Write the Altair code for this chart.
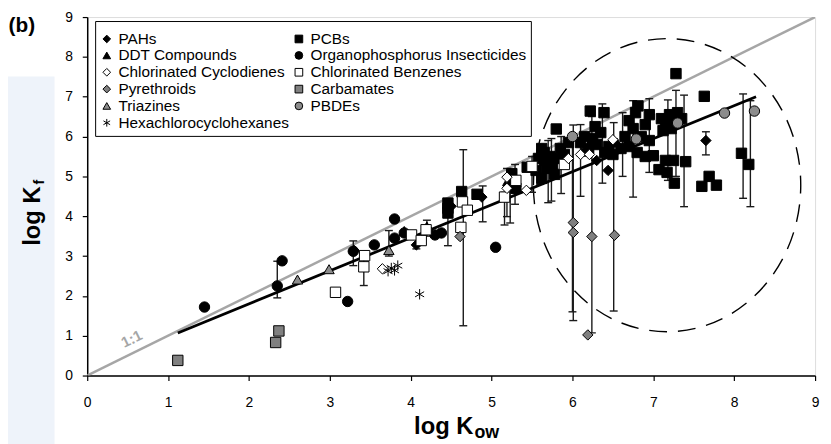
import altair as alt
import pandas as pd

FONT = "Liberation Sans"

# ---- categories (legend fills column by column) ----
categories = ["PAHs", "DDT Compounds", "Chlorinated Cyclodienes", "Pyrethroids",
              "Triazines", "Hexachlorocyclohexanes",
              "PCBs", "Organophosphorus Insecticides", "Chlorinated Benzenes",
              "Carbamates", "PBDEs"]
ASTERISK = "M0,-1L0,1M-0.87,-0.5L0.87,0.5M-0.87,0.5L0.87,-0.5"
shapes = ["diamond", "triangle-up", "diamond", "diamond", "triangle-up", ASTERISK,
          "square", "circle", "square", "square", "circle"]
fills = ["black", "black", "white", "#808080", "#8c8c8c", "black",
         "black", "black", "white", "#808080", "#8c8c8c"]
strokes = ["black"] * 11
stroke_widths = [1, 1, 1, 1, 1, 1.9, 1, 1, 1, 1, 1]

# ---- data (log Kow, log Kf) ----
pah_x = [3.3, 4.07, 4.2, 4.88, 5.3, 5.85, 6.44, 7.65, 6.3, 4.5]
pah_y = [3.14, 3.28, 3.7, 4.48, 4.75, 5.45, 5.15, 5.9, 5.4, 4.25]

pcb_x = [4.46, 4.46, 4.46, 4.63, 4.82, 5.25, 5.25, 5.3, 5.44, 5.62, 5.62, 5.66, 5.7,
         5.8, 5.55, 5.58, 5.65, 5.72, 5.75, 5.8, 5.85, 5.9, 5.68, 5.78, 5.62, 5.95,
         6.22, 6.39, 6.15, 6.25, 6.3, 6.35, 6.4, 6.45, 6.2, 6.1, 6.5, 6.28,
         6.81, 6.7, 6.75, 6.85, 6.9, 6.95, 6.65, 6.7, 6.8, 6.9, 7.0, 6.6, 6.95, 6.78,
         7.1, 7.15, 7.2, 7.25, 7.3, 7.22, 7.35, 7.12,
         7.07, 7.15, 7.25, 7.4, 7.17, 7.26,
         7.28, 7.63, 7.6, 7.69, 7.78, 8.09, 8.18]
pcb_y = [4.33, 4.2, 4.08, 4.62, 4.55, 5.07, 4.85, 4.7, 5.23, 5.7, 5.55, 5.4, 5.35,
         6.19, 5.15, 5.45, 5.6, 5.5, 5.25, 5.45, 5.7, 5.55, 5.2, 5.05, 4.95, 5.85,
         6.64, 6.6, 6.0, 5.95, 5.8, 6.1, 5.6, 5.75, 5.7, 5.85, 5.55, 6.25,
         6.77, 6.4, 6.2, 6.0, 6.3, 5.9, 6.0, 5.75, 5.6, 5.5, 5.52, 5.7, 6.55, 6.6,
         6.45, 6.3, 6.55, 6.35, 6.6, 6.2, 6.45, 6.15,
         5.17, 5.4, 5.4, 5.37, 5.1, 4.83,
         7.58, 7.01, 4.75, 5.0, 4.78, 5.58, 5.3]

ddt_x = [3.92, 4.2, 5.2, 5.7, 6.12, 6.55]
ddt_y = [3.63, 3.74, 4.88, 5.3, 5.62, 5.85]

op_x = [1.45, 2.35, 2.41, 3.22, 3.29, 3.55, 3.80, 3.80, 3.92, 4.3, 4.38, 5.05]
op_y = [1.72, 2.25, 2.88, 1.86, 3.12, 3.28, 3.93, 3.45, 3.58, 3.53, 3.58, 3.22]

cc_x = [3.65, 5.19, 5.19, 5.43, 6.1, 6.21, 6.5, 5.95]
cc_y = [2.68, 4.98, 4.7, 4.65, 5.55, 5.55, 5.92, 5.45]

cb_x = [3.07, 3.43, 3.42, 4.01, 4.13, 4.19, 4.62, 4.64, 4.7, 5.16, 5.3, 5.5, 5.9]
cb_y = [2.09, 3.01, 2.73, 3.53, 3.39, 3.66, 3.72, 4.36, 4.15, 4.48, 4.9, 5.25, 5.3]

py_x = [4.61, 6.01, 6.01, 6.24, 6.52, 6.19]
py_y = [3.49, 3.84, 3.59, 3.49, 3.52, 1.02]

carb_x = [1.12, 2.33, 2.37]
carb_y = [0.38, 0.83, 1.12]

tri_x = [2.6, 2.99, 3.73]
tri_y = [2.41, 2.67, 3.15]

pbde_x = [6.0, 6.79, 7.3, 7.88, 8.25]
pbde_y = [6.0, 5.94, 6.34, 6.59, 6.64]

hch_x = [3.72, 3.76, 3.8, 3.84, 4.11]
hch_y = [2.62, 2.7, 2.64, 2.76, 2.04]

# error bars (x, low, high)
err_x = [2.35, 3.29, 3.42, 3.73, 4.07, 4.2, 4.46, 4.65, 4.89, 5.16, 5.19, 5.23, 5.29,
         5.7, 5.74, 5.86, 6.01, 6.24, 6.37, 6.51, 6.75, 6.62, 6.95, 7.18, 7.28, 7.38,
         7.65, 8.11, 8.2, 5.5, 5.6, 6.1, 6.0]
err_lo = [1.95, 2.76, 2.26, 3.0, 3.18, 3.5, 3.26, 1.25, 3.86, 3.78, 3.99, 3.83, 4.3,
          4.34, 4.38, 4.57, 1.38, 1.07, 4.83, 1.62, 4.48, 5.0, 5.1, 4.9, 5.0, 4.24,
          5.54, 4.45, 4.24, 4.6, 4.8, 4.5, 1.6]
err_hi = [2.87, 3.38, 2.98, 3.64, 3.42, 3.9, 4.4, 5.67, 4.76, 4.6, 5.2, 5.0, 5.3,
          5.9, 5.95, 6.0, 6.29, 6.5, 6.82, 6.35, 6.9, 6.6, 6.95, 6.92, 7.16, 7.04,
          6.12, 7.07, 6.9, 5.5, 5.8, 6.3, 5.9]

# regression line and 1:1 line end points
reg_x = [1.12, 8.27]
reg_y = [1.07, 7.0]
one_x = [0, 9]
one_y = [0, 9]

# dashed circle: centre (in axis units)
circ_x = [7.17]
circ_y = [4.78]

# ---- build tables ----
series = {
    "PAHs": (pah_x, pah_y), "PCBs": (pcb_x, pcb_y), "DDT Compounds": (ddt_x, ddt_y),
    "Organophosphorus Insecticides": (op_x, op_y),
    "Chlorinated Cyclodienes": (cc_x, cc_y), "Chlorinated Benzenes": (cb_x, cb_y),
    "Pyrethroids": (py_x, py_y), "Carbamates": (carb_x, carb_y),
    "Triazines": (tri_x, tri_y), "PBDEs": (pbde_x, pbde_y),
    "Hexachlorocyclohexanes": (hch_x, hch_y),
}
draw_order = ["PCBs", "PAHs", "DDT Compounds", "Organophosphorus Insecticides",
              "Chlorinated Benzenes", "Chlorinated Cyclodienes", "Pyrethroids",
              "Carbamates", "Triazines", "PBDEs", "Hexachlorocyclohexanes"]
rows = []
for i, c in enumerate(draw_order):
    xs_, ys_ = series[c]
    assert len(xs_) == len(ys_), c
    for x, y in zip(xs_, ys_):
        rows.append({"kow": x, "kf": y, "cat": c, "o": i})
pts = pd.DataFrame(rows)

err = pd.DataFrame({"x": err_x, "lo": err_lo, "hi": err_hi})
caps = pd.DataFrame({"x": err_x + err_x, "y": err_lo + err_hi})
reg = pd.DataFrame({"x": reg_x, "y": reg_y})
one = pd.DataFrame({"x": one_x, "y": one_y})
circ = pd.DataFrame({"x": circ_x, "y": circ_y})

xs = alt.Scale(domain=[0, 9], nice=False, zero=False)
ys = alt.Scale(domain=[0, 9], nice=False, zero=False)

X = lambda f: alt.X(f, type="quantitative", scale=xs,
                    axis=alt.Axis(values=list(range(10)), title=None, grid=False,
                                  labelFont=FONT, labelFontSize=14, labelColor="black",
                                  tickColor="black", domainColor="black",
                                  tickSize=5, labelPadding=15, domainWidth=1.5,
                                  tickWidth=1.2, format="d", labelFlush=False))
Y = lambda f: alt.Y(f, type="quantitative", scale=ys,
                    axis=alt.Axis(values=list(range(10)), title=None, grid=False,
                                  labelFont=FONT, labelFontSize=14, labelColor="black",
                                  tickColor="black", domainColor="black",
                                  tickSize=5, labelPadding=10, domainWidth=1.5,
                                  tickWidth=1.2, format="d"))

# light blue slide background strip on the far left
strip = alt.Chart(pd.DataFrame({"k": [0]})).mark_rect(color="#eef3fa").encode(
    x=alt.value(-80), x2=alt.value(-33), y=alt.value(60), y2=alt.value(440))

one_line = alt.Chart(one).mark_line(color="#a6a6a6", strokeWidth=2.5, clip=True).encode(
    x=X("x"), y=Y("y"))

ELLIPSE = ("M-0.912,0C-0.912,-0.5523,-0.5037,-1,0,-1C0.5037,-1,0.912,-0.5523,0.912,0"
           "C0.912,0.5523,0.5037,1,0,1C-0.5037,1,-0.912,0.5523,-0.912,0Z")
circle = alt.Chart(circ).mark_point(shape=ELLIPSE, size=296 * 296, filled=False,
                                    stroke="black", strokeWidth=1.4, opacity=1,
                                    strokeDash=[18, 11]).encode(x=X("x"), y=Y("y"))

bars = alt.Chart(err).mark_rule(color="#1a1a1a", strokeWidth=1.4).encode(
    x=X("x"), y=Y("lo"), y2="hi")
cap = alt.Chart(caps).mark_tick(color="#1a1a1a", orient="horizontal", size=8,
                                thickness=1.4, opacity=1).encode(x=X("x"), y=Y("y"))

reg_line = alt.Chart(reg).mark_line(color="black", strokeWidth=2.8).encode(
    x=X("x"), y=Y("y"))

legend = alt.Legend(title=" ", titleFontSize=4, titlePadding=2,
                    orient="none", legendX=8, legendY=4, columns=2,
                    columnPadding=2, rowPadding=-1.5, labelFont=FONT,
                    labelFontSize=15.5, labelColor="black", symbolSize=60,
                    symbolStrokeColor="black", symbolStrokeWidth=1,
                    strokeColor="black", padding=4, fillColor="white",
                    labelOffset=4, labelLimit=400)

points = alt.Chart(pts).mark_point(filled=True, size=110, opacity=1).encode(
    x=X("kow"), y=Y("kf"),
    shape=alt.Shape("cat:N", scale=alt.Scale(domain=categories, range=shapes),
                    legend=legend),
    fill=alt.Fill("cat:N", scale=alt.Scale(domain=categories, range=fills),
                  legend=legend),
    stroke=alt.Stroke("cat:N", scale=alt.Scale(domain=categories, range=strokes),
                      legend=legend),
    strokeWidth=alt.StrokeWidth("cat:N",
                                scale=alt.Scale(domain=categories, range=stroke_widths),
                                legend=None),
    order=alt.Order("o:Q"),
)

one_label = alt.Chart(pd.DataFrame({"x": [0.55], "y": [0.92], "t": ["1:1"]})).mark_text(
    font=FONT, fontSize=15, fontWeight="bold", color="#a6a6a6", angle=334
).encode(x=X("x"), y=Y("y"), text="t:N")

def label(txt, x, y, size, angle=0, align="center", baseline="middle"):
    return alt.Chart(pd.DataFrame({"t": [txt]})).mark_text(
        font=FONT, fontSize=size, fontWeight="bold", color="black",
        angle=angle, align=align, baseline=baseline
    ).encode(x=alt.value(x), y=alt.value(y), text="t:N")

b_lbl = label("(b)", -66, 9, 21)
x_t1 = label("log K", 390, 421, 24, align="right", baseline="alphabetic")
x_t2 = label("ow", 391, 425, 18, align="left", baseline="alphabetic")
y_t1 = label("log K", -48, 171, 24, angle=270, align="right", baseline="alphabetic")
y_t2 = label("f", -44, 169, 14, angle=270, align="left", baseline="alphabetic")

chart = alt.layer(
    strip, one_line, circle, bars, cap, reg_line, points, one_label,
    b_lbl, x_t1, x_t2, y_t1, y_t2
).properties(
    width=735, height=362,
    autosize=alt.AutoSizeParams(type="none"),
    padding={"left": 80, "top": 7, "right": 8, "bottom": 70},
).configure_view(stroke="black", strokeWidth=1.5
).configure_legend(strokeWidth=2
).configure(background="white")

chart.save("out.html", embed_options={"renderer": "svg", "actions": False})
